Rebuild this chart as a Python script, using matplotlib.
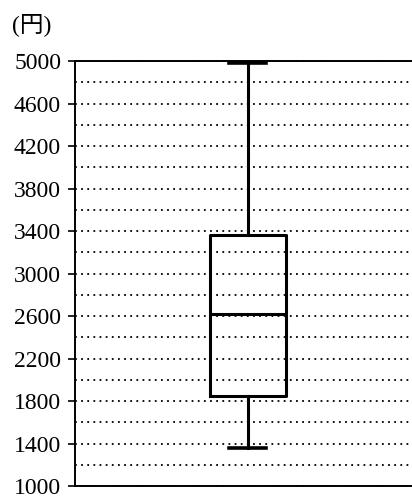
import matplotlib
matplotlib.use("Agg")
import matplotlib.pyplot as plt
from matplotlib.ticker import MultipleLocator

# five-number summary (yen)
whisker_low = 1360
q1 = 1850
median = 2620
q3 = 3360
whisker_high = 4980

y_ticks = [1000, 1400, 1800, 2200, 2600, 3000, 3400, 3800, 4200, 4600, 5000]
unit_label = "(円)"

plt.rcParams['font.family'] = ['Liberation Serif', 'Noto Sans CJK JP', 'DejaVu Sans']

fig = plt.figure(figsize=(4.12, 4.98), dpi=100)
ax = fig.add_axes([75 / 412, 12 / 498, 340 / 412, 425 / 498])

stats = [{'whislo': whisker_low, 'q1': q1, 'med': median, 'q3': q3,
          'whishi': whisker_high, 'fliers': []}]
ax.bxp(stats, positions=[1], widths=0.44, capwidths=0.214, showfliers=False,
       boxprops=dict(color='black', linewidth=2.2),
       medianprops=dict(color='black', linewidth=2.2),
       whiskerprops=dict(color='black', linewidth=2.2),
       capprops=dict(color='black', linewidth=2.6))

ax.set_xlim(0, 1.97)
ax.set_ylim(1000, 5000)
ax.set_yticks(y_ticks)
ax.set_yticklabels([str(v) for v in y_ticks], fontsize=17)
ax.yaxis.set_minor_locator(MultipleLocator(200))
ax.tick_params(axis='y', which='major', length=5, width=1.2, direction='out', pad=5)
ax.tick_params(axis='y', which='minor', length=0)
ax.set_xticks([])

ax.grid(axis='y', which='both', color='black', linestyle=(0, (1, 2.4)), linewidth=1.3)
ax.set_axisbelow(True)

ax.spines['right'].set_visible(False)
for s in ['left', 'top', 'bottom']:
    ax.spines[s].set_linewidth(1.4)

fig.text(12 / 412, 1 - 25 / 498, unit_label, fontsize=17, va='center', ha='left')

fig.savefig("out.png", dpi=100)
